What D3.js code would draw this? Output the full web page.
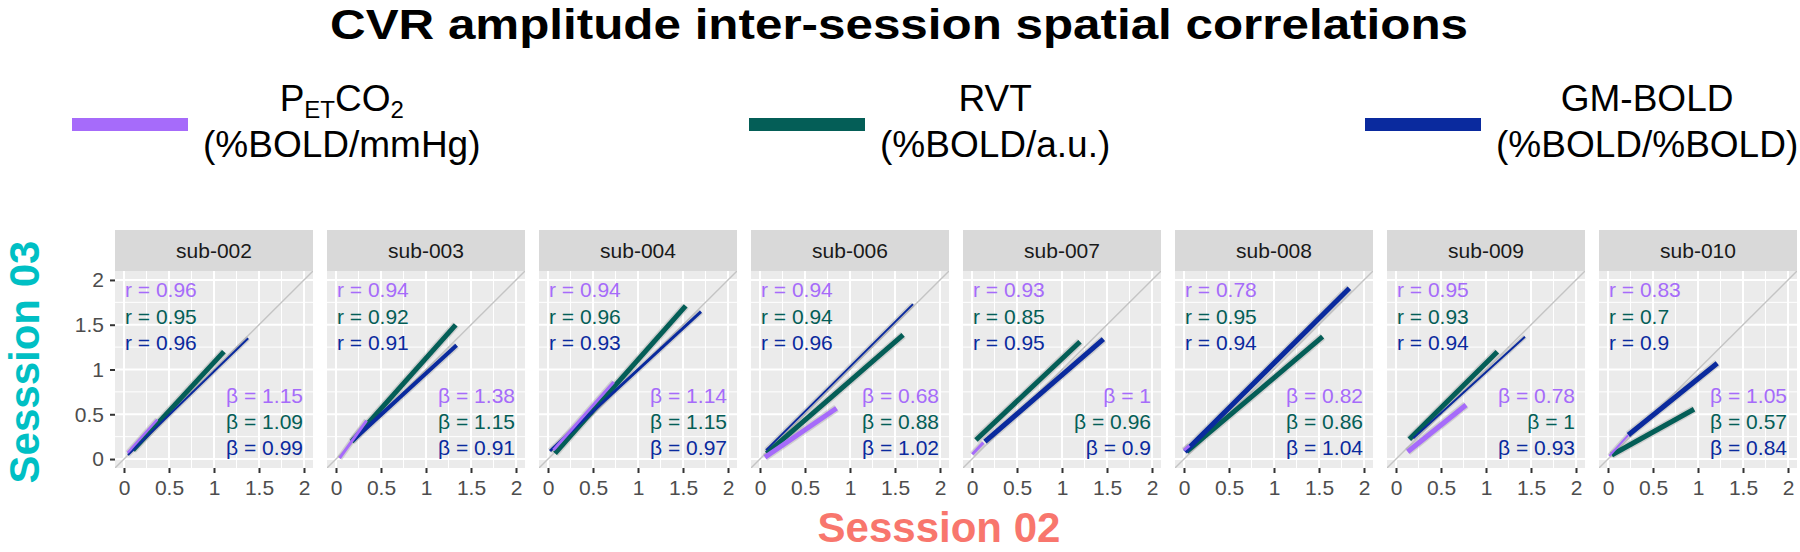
<!DOCTYPE html>
<html>
<head>
<meta charset="utf-8">
<script src="https://cdn.jsdelivr.net/npm/d3@7"></script>
<style>
  html, body { margin: 0; padding: 0; background: #ffffff; }
  svg { display: block; font-family: "Liberation Sans", Arial, Helvetica, sans-serif; }
</style>
</head>
<body>
<svg id="chart" width="1800" height="552"></svg>
<script>
// ---------------- DATA ----------------
const subjects = ["sub-002", "sub-003", "sub-004", "sub-006", "sub-007", "sub-008", "sub-009", "sub-010"];
const seriesKeys = ["PETCO2", "RVT", "GM-BOLD"];
const legendLine1 = ["P_ETCO2", "RVT", "GM-BOLD"];
const legendLine2 = ["(%BOLD/mmHg)", "(%BOLD/a.u.)", "(%BOLD/%BOLD)"];

const rPetco2 = [0.96, 0.94, 0.94, 0.94, 0.93, 0.78, 0.95, 0.83];
const rRvt    = [0.95, 0.92, 0.96, 0.94, 0.85, 0.95, 0.93, 0.7];
const rGm     = [0.96, 0.91, 0.93, 0.96, 0.95, 0.94, 0.94, 0.9];

const betaPetco2 = [1.15, 1.38, 1.14, 0.68, 1, 0.82, 0.78, 1.05];
const betaRvt    = [1.09, 1.15, 1.15, 0.88, 0.96, 0.86, 1, 0.57];
const betaGm     = [0.99, 0.91, 0.97, 1.02, 0.9, 1.04, 0.93, 0.84];

// fitted line segments per subject: [x start, y start, x end, y end] (Session 02 -> Session 03)
const fitPetco2 = [[0.04, 0.07, 0.37, 0.44], [0.04, 0.01, 0.34, 0.43], [0.06, 0.10, 0.73, 0.86], [0.056, 0.02, 0.85, 0.567],
                   [0.003, 0.053, 0.126, 0.183], [0.0, 0.10, 0.06, 0.15], [0.13, 0.082, 0.778, 0.604], [0.014, 0.034, 0.226, 0.269]];
const fitRvt    = [[0.10, 0.10, 1.11, 1.20], [0.174, 0.194, 1.33, 1.498], [0.078, 0.064, 1.53, 1.71], [0.074, 0.064, 1.59, 1.386],
                   [0.044, 0.213, 1.20, 1.31], [0.03, 0.082, 1.54, 1.367], [0.148, 0.221, 1.126, 1.199], [0.041, 0.045, 0.956, 0.556]];
const fitGm     = [[0.044, 0.045, 1.38, 1.35], [0.19, 0.21, 1.34, 1.27], [0.022, 0.09, 1.70, 1.646], [0.067, 0.10, 1.70, 1.73],
                   [0.144, 0.194, 1.46, 1.338], [0.011, 0.082, 1.837, 1.908], [0.192, 0.232, 1.433, 1.367], [0.226, 0.269, 1.214, 1.07]];

const axisTicks = [0, 0.5, 1, 1.5, 2];
const axisTickLabels = ["0", "0.5", "1", "1.5", "2"];
const minorTicks = [0.25, 0.75, 1.25, 1.75];

const titleText = "CVR amplitude inter-session spatial correlations";
const xTitle = "Sesssion 02";
const yTitle = "Sesssion 03";

// ---------------- STYLE / LAYOUT ----------------
const colors = ["#A66BFA", "#045E57", "#0A2A9E"];
const lineWidths = [ // per subject: [PETCO2, RVT, GM]
  [2.5, 5, 2], [3, 5, 4], [3, 5, 3], [5, 5, 2], [3, 5, 5], [3, 5, 5], [5, 5, 2], [2, 5, 5]
];
const panelLeft0 = 115, panelPitch = 212, panelW = 198;
const stripTop = 230, panelTop = 271, panelBottom = 468;
const dom = [-0.1, 2.1];
const legendBarX = [72, 749, 1365], legendBarW = 116;

const svg = d3.select("#chart");

// Title
svg.append("text")
  .attr("x", 899).attr("y", 39)
  .attr("text-anchor", "middle")
  .attr("font-size", 43).attr("font-weight", "bold").attr("fill", "#000")
  .attr("textLength", 1138).attr("lengthAdjust", "spacingAndGlyphs")
  .text(titleText);

// Legend
seriesKeys.forEach((k, i) => {
  const g = svg.append("g");
  g.append("rect")
    .attr("x", legendBarX[i]).attr("y", 118)
    .attr("width", legendBarW).attr("height", 13)
    .attr("fill", colors[i]);
  const t1 = g.append("text").attr("y", 111).attr("font-size", 37).attr("fill", "#000").attr("text-anchor", "middle");
  if (legendLine1[i] === "P_ETCO2") {
    t1.append("tspan").text("P");
    t1.append("tspan").attr("font-size", 24).attr("dy", 7).text("ET");
    t1.append("tspan").attr("dy", -7).text("CO");
    t1.append("tspan").attr("font-size", 24).attr("dy", 7).text("2");
  } else {
    t1.text(legendLine1[i]);
  }
  const t2 = g.append("text").attr("y", 157).attr("font-size", 37).attr("fill", "#000")
    .attr("text-anchor", "middle").text(legendLine2[i]);
  const w = Math.max(t1.node().getComputedTextLength(), t2.node().getComputedTextLength());
  const cx = legendBarX[i] + legendBarW + 15 + w / 2;
  t1.attr("x", cx);
  t2.attr("x", cx);
});

const defs = svg.append("defs");

subjects.forEach((sub, i) => {
  const x0 = panelLeft0 + i * panelPitch;
  const xs = d3.scaleLinear().domain(dom).range([x0, x0 + panelW]);
  const ys = d3.scaleLinear().domain(dom).range([panelBottom, panelTop]);
  const g = svg.append("g");

  // strip
  g.append("rect").attr("x", x0).attr("y", stripTop).attr("width", panelW).attr("height", panelTop - stripTop).attr("fill", "#D9D9D9");
  g.append("text").attr("x", x0 + panelW / 2).attr("y", 258).attr("text-anchor", "middle")
    .attr("font-size", 21).attr("fill", "#1A1A1A").text(sub);

  // panel background
  g.append("rect").attr("x", x0).attr("y", panelTop).attr("width", panelW).attr("height", panelBottom - panelTop).attr("fill", "#EBEBEB");

  // grid
  minorTicks.forEach(v => {
    g.append("line").attr("x1", xs(v)).attr("x2", xs(v)).attr("y1", panelTop).attr("y2", panelBottom).attr("stroke", "#fff").attr("stroke-width", 1);
    g.append("line").attr("y1", ys(v)).attr("y2", ys(v)).attr("x1", x0).attr("x2", x0 + panelW).attr("stroke", "#fff").attr("stroke-width", 1);
  });
  axisTicks.forEach(v => {
    g.append("line").attr("x1", xs(v)).attr("x2", xs(v)).attr("y1", panelTop).attr("y2", panelBottom).attr("stroke", "#fff").attr("stroke-width", 2);
    g.append("line").attr("y1", ys(v)).attr("y2", ys(v)).attr("x1", x0).attr("x2", x0 + panelW).attr("stroke", "#fff").attr("stroke-width", 2);
  });

  const clipId = "clip" + i;
  defs.append("clipPath").attr("id", clipId).append("rect")
    .attr("x", x0).attr("y", panelTop).attr("width", panelW).attr("height", panelBottom - panelTop);
  const pg = g.append("g").attr("clip-path", `url(#${clipId})`);

  // identity line
  pg.append("line").attr("x1", xs(dom[0])).attr("y1", ys(dom[0])).attr("x2", xs(dom[1])).attr("y2", ys(dom[1]))
    .attr("stroke", "#C4C4C4").attr("stroke-width", 1.4);

  // fitted lines (grey band then coloured line)
  const fits = [fitPetco2[i], fitRvt[i], fitGm[i]];
  const order = [1, 2, 0];
  order.forEach(s => {
    const f = fits[s];
    pg.append("line").attr("x1", xs(f[0])).attr("y1", ys(f[1])).attr("x2", xs(f[2])).attr("y2", ys(f[3]))
      .attr("stroke", "#999").attr("stroke-opacity", 0.35).attr("stroke-width", lineWidths[i][s] + 3);
  });
  order.forEach(s => {
    const f = fits[s];
    pg.append("line").attr("x1", xs(f[0])).attr("y1", ys(f[1])).attr("x2", xs(f[2])).attr("y2", ys(f[3]))
      .attr("stroke", colors[s]).attr("stroke-width", lineWidths[i][s]);
  });

  // annotations
  const rs = [rPetco2[i], rRvt[i], rGm[i]];
  const bs = [betaPetco2[i], betaRvt[i], betaGm[i]];
  [0, 1, 2].forEach(s => {
    g.append("text").attr("x", x0 + 10).attr("y", panelTop + 26 + s * 26.5)
      .attr("font-size", 21).attr("fill", colors[s]).text("r = " + rs[s]);
    g.append("text").attr("x", x0 + panelW - 10).attr("y", panelBottom - 65 + s * 26)
      .attr("text-anchor", "end").attr("font-size", 21).attr("fill", colors[s]).text("\u03B2 = " + bs[s]);
  });

  // x axis
  const xAxis = d3.axisBottom(xs).tickValues(axisTicks).tickFormat((d, j) => axisTickLabels[j]).tickSize(5).tickPadding(7);
  const xa = g.append("g").attr("transform", `translate(0,${panelBottom})`).call(xAxis);
  xa.select(".domain").remove();
  xa.selectAll(".tick line").attr("stroke", "#333").attr("stroke-width", 2);
  xa.selectAll(".tick text").attr("font-size", 21).attr("fill", "#4D4D4D").attr("font-family", "Liberation Sans, Arial, sans-serif");

  if (i === 0) {
    const yAxis = d3.axisLeft(ys).tickValues(axisTicks).tickFormat((d, j) => axisTickLabels[j]).tickSize(5).tickPadding(6);
    const ya = g.append("g").attr("transform", `translate(${x0},0)`).call(yAxis);
    ya.select(".domain").remove();
    ya.selectAll(".tick line").attr("stroke", "#333").attr("stroke-width", 2);
    ya.selectAll(".tick text").attr("font-size", 21).attr("fill", "#4D4D4D").attr("font-family", "Liberation Sans, Arial, sans-serif");
  }
});

// axis titles
svg.append("text").attr("x", 939).attr("y", 542).attr("text-anchor", "middle")
  .attr("font-size", 42).attr("font-weight", "bold").attr("fill", "#F8766D").text(xTitle);
svg.append("text").attr("transform", "translate(39,362) rotate(-90)").attr("text-anchor", "middle")
  .attr("font-size", 42).attr("font-weight", "bold").attr("fill", "#00BFC4").text(yTitle);
</script>
</body>
</html>
